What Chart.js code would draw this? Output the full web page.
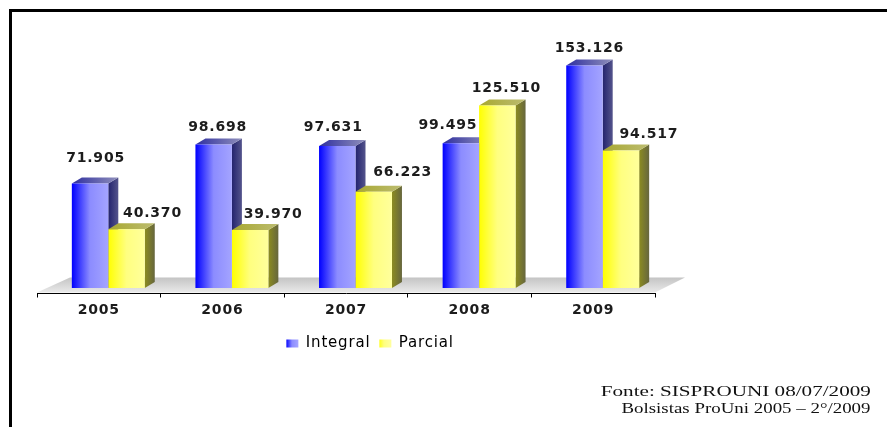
<!DOCTYPE html>
<html>
<head>
<meta charset="utf-8">
<title>Bolsistas ProUni</title>
<script src="https://cdn.jsdelivr.net/npm/chart.js@4/dist/chart.umd.min.js"></script>
<style>
    html, body { margin: 0; padding: 0; background: #fff; overflow: hidden; }
    #frame { position: absolute; left: 9px; top: 9px; right: 0; bottom: 0; border-left: 3px solid #000; border-top: 3px solid #000; }
    #corpusChart { position: absolute; left: 0; top: 0; }
    .source { position: absolute; right: 16px; font: 14px "Liberation Serif", serif; color: #111; white-space: nowrap; transform-origin: right center; }
</style>
</head>
<body>
<div id="frame"></div>
<canvas id="corpusChart" width="887" height="427"></canvas>
<div class="source" style="top:384px; transform: scaleX(1.51)">Fonte: SISPROUNI 08/07/2009</div>
<div class="source" style="top:401px; transform: scaleX(1.35)">Bolsistas ProUni 2005 – 2°/2009</div>
<script>
const years = ['2005', '2006', '2007', '2008', '2009'];
const integral = [71905, 98698, 97631, 99495, 153126];
const parcial = [40370, 39970, 66223, 125510, 94517];

// where each value label sits relative to the top centre of its bar
const labelShift = [
    { dx: [5.5, 4, -4, -13, 5], dy: [25, 17.6, 19, 18.4, 17] },
    { dx: [26, 23, 29, 9, 28], dy: [16, 15.5, 19, 17.4, 16.7] }
];

const barShift = 9.5;
const legendShift = 24;
const depthX = 10;
const depthY = 6;
const fontFamily = '"DejaVu Sans", sans-serif';

const looks = [
    { front: ['#0000ff', '#8c8cff', '#a4a4ff'], side: ['#23236e', '#54548c'], top: ['#2f2fa0', '#8f8fbb'] },
    { front: ['#ffff00', '#ffff80', '#ffff9c'], side: ['#8c8c20', '#66663e'], top: ['#a8a830', '#bcbc70'] }
];

function hGradient(ctx, x0, x1, colors) {
    const g = ctx.createLinearGradient(x0, 0, x1, 0);
    colors.forEach((c, i) => g.addColorStop(i / (colors.length - 1), c));
    return g;
}

function frontFill(dsIndex) {
    return function(c) {
        const scale = c.chart.scales.x;
        if (c.dataIndex === undefined || !scale) return looks[dsIndex].front[0];
        const center = scale.getPixelForValue(c.dataIndex);
        const half = (scale.width / years.length) * 0.59 / 2;
        const x0 = dsIndex === 0 ? center - half : center;
        return hGradient(c.chart.ctx, x0, x0 + half, looks[dsIndex].front);
    };
}

function drawDepth(chart, dsIndex) {
    const { ctx } = chart;
    const look = looks[dsIndex];
    chart.getDatasetMeta(dsIndex).data.forEach(bar => {
        const r = bar.x + bar.width / 2;
        const l = bar.x - bar.width / 2;
        ctx.fillStyle = hGradient(ctx, r, r + depthX, look.side);
        ctx.beginPath();
        ctx.moveTo(r, bar.y);
        ctx.lineTo(r + depthX, bar.y - depthY);
        ctx.lineTo(r + depthX, bar.base - depthY);
        ctx.lineTo(r, bar.base);
        ctx.closePath();
        ctx.fill();
        ctx.fillStyle = hGradient(ctx, l, r + depthX, look.top);
        ctx.beginPath();
        ctx.moveTo(l, bar.y);
        ctx.lineTo(l + depthX, bar.y - depthY);
        ctx.lineTo(r + depthX, bar.y - depthY);
        ctx.lineTo(r, bar.y);
        ctx.closePath();
        ctx.fill();
    });
}

const fake3d = {
    id: 'fake3d',
    beforeUpdate(chart) {
        chart.ctx.letterSpacing = '0.8px';
    },
    afterLayout(chart) {
        chart.legend.left += legendShift;
        chart.legend.right += legendShift;
    },
    beforeDatasetsDraw(chart) {
        const { ctx, chartArea: a } = chart;
        // floor under the bars
        const g = ctx.createLinearGradient(0, a.bottom - 16, 0, a.bottom);
        g.addColorStop(0, '#c4c4c4');
        g.addColorStop(1, '#ececec');
        ctx.save();
        ctx.fillStyle = g;
        ctx.beginPath();
        ctx.moveTo(a.left, a.bottom - 1);
        ctx.lineTo(a.left + 33, a.bottom - 16);
        ctx.lineTo(a.right + 30, a.bottom - 16);
        ctx.lineTo(a.right, a.bottom - 1);
        ctx.closePath();
        ctx.fill();
        ctx.restore();
        ctx.save();
        ctx.translate(barShift, 0);
        // sides and tops first, the fronts come after them
        drawDepth(chart, 0);
        drawDepth(chart, 1);
    },
    afterDatasetsDraw(chart) {
        const { ctx } = chart;
        ctx.font = 'bold 14px ' + fontFamily;
        ctx.fillStyle = '#1c1c1c';
        ctx.textAlign = 'center';
        ctx.textBaseline = 'middle';
        chart.data.datasets.forEach((ds, d) => {
            chart.getDatasetMeta(d).data.forEach((bar, i) => {
                const text = ds.data[i].toLocaleString('de-DE');
                ctx.fillText(text, bar.x + labelShift[d].dx[i], bar.y - labelShift[d].dy[i]);
            });
        });
        ctx.restore();
    }
};

const chart = new Chart(document.getElementById('corpusChart'), {
    type: 'bar',
    data: {
        labels: years,
        datasets: [
            { label: 'Integral', data: integral, backgroundColor: frontFill(0) },
            { label: 'Parcial', data: parcial, backgroundColor: frontFill(1) }
        ]
    },
    options: {
        responsive: false,
        animation: false,
        events: [],
        categoryPercentage: 0.59,
        barPercentage: 1,
        layout: { padding: { left: 37, right: 232, top: 22, bottom: 66 } },
        scales: {
            x: {
                afterFit(scale) { scale.height = 33.5; },
                grid: { drawOnChartArea: false, tickLength: 4, tickColor: '#000' },
                border: { color: '#000', width: 1 },
                ticks: {
                    color: '#1c1c1c',
                    padding: 4,
                    maxRotation: 0,
                    font: { family: fontFamily, size: 14, weight: 'bold' }
                }
            },
            y: { display: false, min: -3800, max: 183000 }
        },
        plugins: {
            tooltip: { enabled: false },
            legend: {
                position: 'bottom',
                labels: {
                    boxWidth: 12,
                    boxHeight: 8,
                    padding: 9,
                    color: '#2a2a2a',
                    font: { family: fontFamily, size: 15 },
                    generateLabels(c) {
                        return c.data.datasets.map((ds, i) => ({
                            text: ds.label,
                            fillStyle: hGradient(c.ctx, i === 0 ? 286 : 378, i === 0 ? 298 : 390, looks[i].front),
                            strokeStyle: 'rgba(0,0,0,0)',
                            lineWidth: 0,
                            datasetIndex: i
                        }));
                    }
                }
            }
        }
    },
    plugins: [fake3d]
});
</script>
</body>
</html>
